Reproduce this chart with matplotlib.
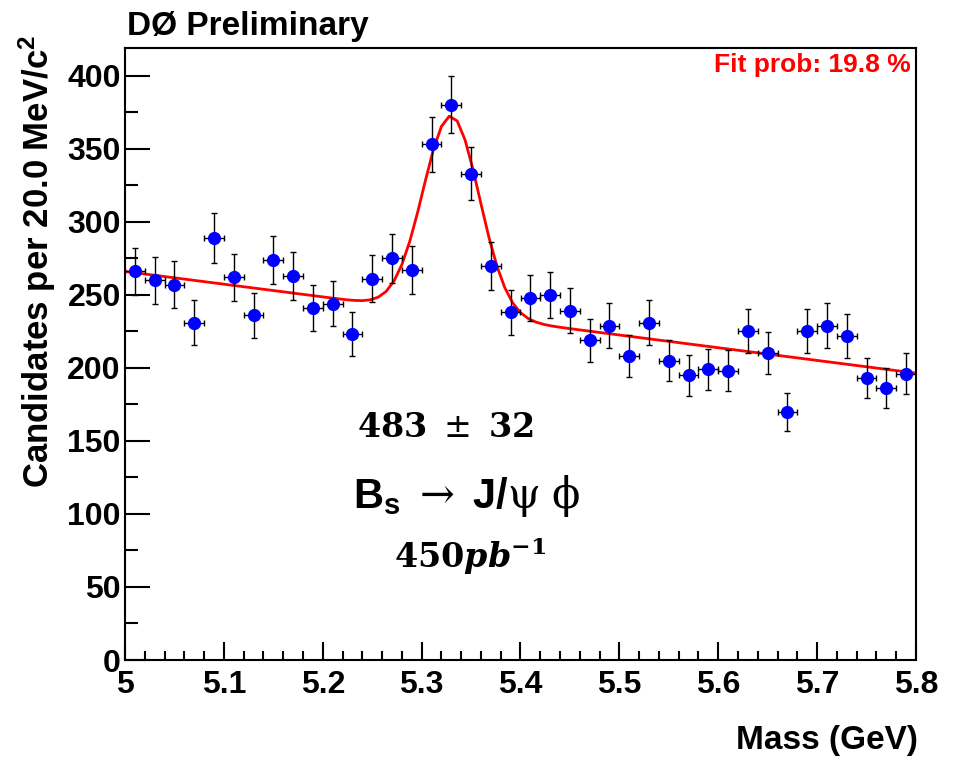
import numpy as np
import matplotlib
matplotlib.use("Agg")
import matplotlib.pyplot as plt
from matplotlib.ticker import MultipleLocator

plt.rcParams['font.family'] = ['Liberation Sans', 'DejaVu Sans']
plt.rcParams['mathtext.fontset'] = 'custom'
plt.rcParams['mathtext.rm'] = 'DejaVu Serif:normal'
plt.rcParams['mathtext.bf'] = 'Liberation Sans:bold'
plt.rcParams['mathtext.it'] = 'Liberation Sans:italic'

# histogram: 40 bins of 20 MeV from 5.0 to 5.8 GeV
bin_width = 0.02
bin_centers = 5.01 + bin_width * np.arange(40)
counts = [266, 260, 257, 231, 289, 262, 236, 274, 263, 241,
          244, 223, 261, 275, 267, 353, 380, 333, 270, 238,
          248, 250, 239, 219, 229, 208, 231, 205, 195, 199,
          198, 225, 210, 170, 225, 229, 222, 193, 186, 196]

# fit result: gaussian signal + linear background
sig_yield = 483
sig_err = 32
sig_mean = 5.33
sig_width = 0.0285
bkg_at_5 = 266
bkg_slope = -87.0
fit_prob = 19.8

counts = np.array(counts, dtype=float)
errors = np.sqrt(counts)

def fit_func(m):
    gaus = sig_yield * bin_width / (sig_width * np.sqrt(2 * np.pi)) * \
        np.exp(-0.5 * ((m - sig_mean) / sig_width) ** 2)
    return gaus + bkg_at_5 + bkg_slope * (m - 5.0)

W, H = 954, 757
fig = plt.figure(figsize=(W / 100, H / 100), dpi=100)
ax = fig.add_axes([125 / W, 1 - 660 / H, (916 - 125) / W, (660 - 48) / H])

ax.errorbar(bin_centers, counts, yerr=errors, xerr=bin_width / 2,
            fmt='o', color='#0000ff', markersize=8.5, ecolor='black',
            elinewidth=1.0, capsize=2.2, capthick=1.0, zorder=3)

mm = np.linspace(5.0, 5.8, 101)
ax.plot(mm, fit_func(mm), color='#ff0000', lw=2.0, zorder=2)

ax.set_xlim(5.0, 5.8)
ax.set_ylim(0, 419)

ax.xaxis.set_major_locator(MultipleLocator(0.1))
ax.xaxis.set_minor_locator(MultipleLocator(0.02))
ax.yaxis.set_major_locator(MultipleLocator(50))
ax.yaxis.set_minor_locator(MultipleLocator(25))
ax.set_xticks(np.arange(5.0, 5.81, 0.1))
ax.set_xticklabels(['5', '5.1', '5.2', '5.3', '5.4', '5.5', '5.6', '5.7', '5.8'])

ax.tick_params(axis='both', which='both', direction='in', width=1.5,
               top=False, right=False, labelsize=23)
ax.tick_params(axis='y', which='major', length=18, pad=3)
ax.tick_params(axis='y', which='minor', length=9.5)
ax.tick_params(axis='x', which='major', length=13, pad=7)
ax.tick_params(axis='x', which='minor', length=6.5)
for lab in ax.get_xticklabels() + ax.get_yticklabels():
    lab.set_fontweight('bold')
for sp in ax.spines.values():
    sp.set_linewidth(1.5)

fig.text(37 / W, 1 - 35 / H, 'Candidates per 20.0 MeV/c$^{\\mathbf{2}}$', rotation=90,
         ha='center', va='top', fontsize=25, fontweight='bold')
fig.text(918 / W, 1 - 741 / H, 'Mass (GeV)', ha='right', va='center',
         fontsize=24, fontweight='bold')
fig.text(127 / W, 1 - 35 / H, 'DØ Preliminary', ha='left', va='baseline',
         fontsize=24, fontweight='bold')
fig.text(911 / W, 1 - 72 / H, f'Fit prob: {fit_prob} %', ha='right',
         va='baseline', fontsize=19, fontweight='bold', color='#ff0000')

fig.text(445 / W, 1 - 437 / H,
         rf'$\mathbf{{{sig_yield}}}\ \pm\ \mathbf{{{sig_err}}}$',
         ha='center', va='baseline', fontsize=24, math_fontfamily='dejavuserif')
fig.text(467 / W, 1 - 508 / H,
         r'$\mathbf{B_s}\ \rightarrow\ \mathbf{J/}\mathrm{\psi}\ \mathrm{\phi}$',
         ha='center', va='baseline', fontsize=30, math_fontfamily='custom')
fig.text(470 / W, 1 - 568 / H, r'$\mathbf{450}\mathbfit{pb}^{\mathbf{-1}}$',
         ha='center', va='baseline', fontsize=24, math_fontfamily='dejavuserif')

fig.savefig('out.png', dpi=100)
